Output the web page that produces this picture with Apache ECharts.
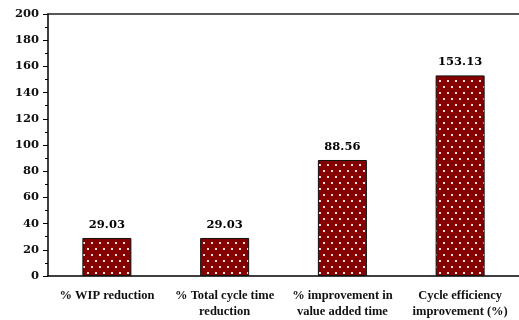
<!DOCTYPE html>
<html>
<head>
<meta charset="utf-8">
<script src="https://cdn.jsdelivr.net/npm/echarts@6/dist/echarts.min.js"></script>
<style>
  html, body { margin: 0; padding: 0; background: #fff; }
  #chart { width: 519px; height: 320px; }
</style>
</head>
<body>
<div id="chart"></div>
<script>
// Improvement metrics (%)
const categories = [
  '% WIP reduction',
  '% Total cycle time\nreduction',
  '% improvement in\nvalue added time',
  'Cycle efficiency\nimprovement (%)'
];
const values = [29.03, 29.03, 88.56, 153.13];
const yTicks = [0, 20, 40, 60, 80, 100, 120, 140, 160, 180, 200];

// Dotted dark-red fill for the bars
function dotPattern() {
  const c = document.createElement('canvas');
  c.width = 8; c.height = 12;
  const g = c.getContext('2d');
  g.fillStyle = '#850000';
  g.fillRect(0, 0, 8, 12);
  g.fillStyle = '#f8dede';
  g.fillRect(3, 2, 2, 2);
  g.fillRect(7, 8, 2, 2);
  g.fillRect(-1, 8, 2, 2);
  return c;
}

const chart = echarts.init(document.getElementById('chart'), null, { renderer: 'canvas' });
const serif = '"DejaVu Serif", "Liberation Serif", serif';

chart.setOption({
  animation: false,
  grid: { left: 48, right: -7, top: 14, bottom: 43 },
  xAxis: [{
    type: 'category',
    data: categories,
    axisLine: { lineStyle: { color: '#000', width: 1.5 } },
    axisTick: { show: false },
    axisLabel: {
      interval: 0,
      color: '#111',
      fontFamily: '"Liberation Serif", serif',
      fontWeight: 'bold',
      fontSize: 12.5,
      lineHeight: 16,
      margin: 12
    }
  }, {
    type: 'category',
    position: 'top',
    data: categories,
    axisLine: { show: true, lineStyle: { color: '#222', width: 1.5 } },
    axisTick: { show: false },
    axisLabel: { show: false }
  }],
  yAxis: {
    type: 'value',
    min: yTicks[0],
    max: yTicks[yTicks.length - 1],
    interval: yTicks[1] - yTicks[0],
    axisLine: { show: true, lineStyle: { color: '#000', width: 1.5 } },
    axisTick: { show: true, length: 5, lineStyle: { color: '#000' } },
    minorTick: { show: true, splitNumber: 2, length: 3, lineStyle: { color: '#000' } },
    splitLine: { show: false },
    axisLabel: {
      color: '#111',
      fontFamily: serif,
      fontWeight: 'bold',
      fontSize: 11.5,
      margin: 9
    }
  },
  series: [{
    type: 'bar',
    data: values,
    barWidth: 49,
    itemStyle: {
      color: { image: dotPattern(), repeat: 'repeat' },
      borderColor: '#111',
      borderWidth: 1
    },
    label: {
      show: true,
      position: 'top',
      distance: 7,
      color: '#000',
      fontFamily: serif,
      fontWeight: 'bold',
      fontSize: 11.5,
      formatter: p => p.value.toFixed(2)
    }
  }]
});
</script>
</body>
</html>
